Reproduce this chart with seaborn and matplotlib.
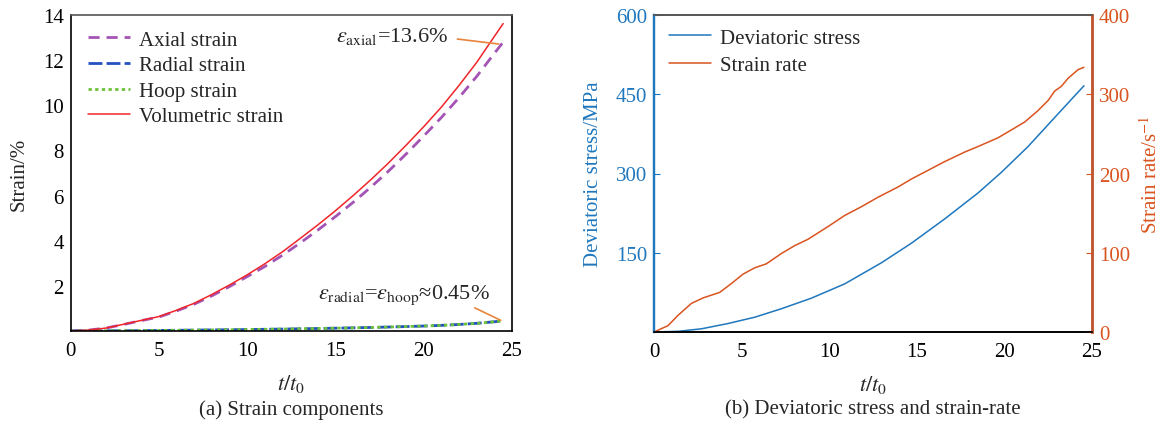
import numpy as np
import pandas as pd
import matplotlib
matplotlib.use("Agg")
import matplotlib.pyplot as plt
from matplotlib.lines import Line2D
import seaborn as sns

# ---------------- data ----------------
t_strain = [0, 1, 2, 3, 4, 5, 6, 7, 8, 9, 10, 11, 12, 13, 14, 15, 16, 17, 18, 19,
            20, 21, 22, 23, 24, 24.5]
axial = [0, 0.04, 0.13, 0.29, 0.46, 0.62, 0.89, 1.19, 1.56, 1.97, 2.41, 2.86, 3.36,
         3.90, 4.47, 5.07, 5.70, 6.37, 7.08, 7.84, 8.64, 9.46, 10.34, 11.28, 12.30, 12.80]
radial = [0, 0.003, 0.007, 0.012, 0.018, 0.025, 0.032, 0.040, 0.048, 0.056, 0.065,
          0.075, 0.086, 0.098, 0.111, 0.125, 0.140, 0.157, 0.176, 0.197, 0.220, 0.250,
          0.290, 0.340, 0.410, 0.450]
hoop = list(radial)
volumetric = [0, 0.04, 0.13, 0.30, 0.47, 0.64, 0.92, 1.23, 1.62, 2.04, 2.49, 2.98, 3.51,
              4.10, 4.70, 5.33, 6.00, 6.70, 7.44, 8.23, 9.05, 9.92, 10.88, 11.90, 13.05, 13.62]

t_rate = [0, 0.8, 1.37, 2.13, 2.8, 3.75, 4.41, 5.08, 5.75, 6.41, 7.27, 8.03, 8.79, 9.93,
          10.88, 11.83, 12.78, 13.93, 14.69, 15.64, 16.59, 17.73, 18.49, 19.63, 20.4,
          21.16, 21.9, 22.49, 22.87, 23.25, 23.63, 24.2, 24.54]
strain_rate = [0, 8, 21, 36, 43, 50, 61, 73, 81, 86, 99, 109, 117, 133, 147, 158, 170,
               183, 193, 204, 215, 227, 234, 245, 255, 265, 279, 292, 304, 310, 320, 331, 334]

t_stress = [0, 1.37, 2.7, 4.22, 5.75, 7.27, 8.98, 10.88, 12.98, 14.69, 16.59, 18.49,
            19.82, 21.35, 22.87, 24.54]
dev_stress = [0, 1.3, 6, 16, 28, 44, 64, 91, 131, 168, 214, 263, 302, 351, 406, 466]

x_ticks = [0, 5, 10, 15, 20, 25]
strain_ticks = [2, 4, 6, 8, 10, 12, 14]
stress_ticks = [150, 300, 450, 600]
rate_ticks = [0, 100, 200, 300, 400]

# ---------------- style ----------------
sns.set_style("white")
plt.rcParams["font.family"] = ["Liberation Serif", "DejaVu Serif"]
plt.rcParams["mathtext.fontset"] = "stix"
plt.rcParams["font.size"] = 15

FS = 15
C_AX = "#A454B4"
C_RAD = "#2450C0"
C_HOOP = "#6CC23A"
C_VOL = "#F0252A"
C_STRESS = "#1F77BD"
C_RATE = "#D9541F"
C_ANN = "#E8843C"

W, H = 1165, 431
fig = plt.figure(figsize=(W / 100, H / 100), dpi=100)

def box(l, t, r, b):
    return [l / W, (H - b) / H, (r - l) / W, (b - t) / H]

# ---------------- panel (a) ----------------
ax = fig.add_axes(box(70.7, 16, 512, 332))
df_a = pd.DataFrame({"t": t_strain, "axial": axial, "radial": radial,
                     "hoop": hoop, "vol": volumetric})
sns.lineplot(data=df_a, x="t", y="axial", ax=ax, color=C_AX, lw=2,
             linestyle=(0, (4, 2.5)), label="Axial strain")
sns.lineplot(data=df_a, x="t", y="radial", ax=ax, color=C_RAD, lw=2,
             linestyle=(0, (5, 1.5)), label="Radial strain")
sns.lineplot(data=df_a, x="t", y="hoop", ax=ax, color=C_HOOP, lw=2,
             linestyle=(0, (1.2, 1.2)), label="Hoop strain")
sns.lineplot(data=df_a, x="t", y="vol", ax=ax, color=C_VOL, lw=1.1,
             linestyle="-", label="Volumetric strain")
ax.set_xlim(0, 25)
ax.set_ylim(0, 14)
ax.set_xticks(x_ticks)
ax.set_yticks(strain_ticks)
ax.tick_params(direction="in", length=4, width=1, colors="black", labelsize=FS,
               top=False, right=False)
ax.tick_params(axis="x", pad=7)
ax.tick_params(axis="y", pad=5)
ax.set_xlabel(r"$t/t_0$", fontsize=16, labelpad=9)
ax.set_ylabel("Strain/%", fontsize=FS, labelpad=10)
for s in ax.spines.values():
    s.set_color("black")
    s.set_linewidth(1.2)
ax.spines["top"].set_color("#555555")
ax.legend(loc="upper left", bbox_to_anchor=(0.021, 0.979), frameon=False,
          handlelength=2.0, handletextpad=0.45, labelspacing=0.29,
          fontsize=FS, borderaxespad=0)
ax.annotate("", xy=(24.4, 12.7), xytext=(21.75, 12.95),
            arrowprops=dict(arrowstyle="-", color=C_ANN, lw=1.2))
ax.text(21.4, 13.1, r"$\varepsilon_{\mathrm{axial}}$=13.6%", ha="right",
        va="center", fontsize=16)
ax.annotate("", xy=(24.5, 0.42), xytext=(22.75, 1.08),
            arrowprops=dict(arrowstyle="-", color=C_ANN, lw=1.2))
ax.text(23.75, 1.64,
        r"$\varepsilon_{\mathrm{radial}}$=$\varepsilon_{\mathrm{hoop}}$≈0.45%",
        ha="right", va="center", fontsize=16)
fig.text((70.7 + 512) / 2 / W, 1 - 410 / H, "(a) Strain components",
         ha="center", va="center", fontsize=FS)

# ---------------- panel (b) ----------------
bx = fig.add_axes(box(654, 16, 1092, 333))
bx2 = bx.twinx()
df_s = pd.DataFrame({"t": t_stress, "stress": dev_stress})
df_r = pd.DataFrame({"t": t_rate, "rate": strain_rate})
sns.lineplot(data=df_s, x="t", y="stress", ax=bx, color=C_STRESS, lw=1.1, legend=False)
sns.lineplot(data=df_r, x="t", y="rate", ax=bx2, color=C_RATE, lw=1.1, legend=False)
bx.set_xlim(0, 25)
bx.set_ylim(0, 600)
bx2.set_ylim(0, 400)
bx.set_xticks(x_ticks)
bx.set_yticks(stress_ticks)
bx2.set_yticks(rate_ticks)
bx.tick_params(axis="x", direction="in", length=4, colors="black", labelsize=FS, pad=7)
bx.tick_params(axis="y", direction="in", length=4, colors=C_STRESS, labelsize=FS, pad=5)
bx2.tick_params(axis="y", direction="in", length=4, colors=C_RATE, labelsize=FS, pad=5)
bx.set_xlabel(r"$t/t_0$", fontsize=16, labelpad=9)
bx.set_ylabel("Deviatoric stress/MPa", fontsize=FS, color=C_STRESS, labelpad=9)
bx2.set_ylabel(r"Strain rate/s$^{-1}$", fontsize=FS, color=C_RATE, labelpad=7)
for a in (bx, bx2):
    for s in a.spines.values():
        s.set_linewidth(1.2)
    a.spines["top"].set_color("#555555")
    a.spines["bottom"].set_color("black")
    a.spines["left"].set_color(C_STRESS)
    a.spines["right"].set_color("#C0552E")
    a.spines["right"].set_linewidth(1.8)
    a.spines["left"].set_linewidth(1.6)
handles = [Line2D([], [], color=C_STRESS, lw=1.1), Line2D([], [], color=C_RATE, lw=1.1)]
bx.legend(handles, ["Deviatoric stress", "Strain rate"], loc="upper left",
          bbox_to_anchor=(0.016, 0.985), frameon=False, handlelength=2.0,
          handletextpad=0.45, labelspacing=0.39, fontsize=FS, borderaxespad=0)
fig.text((654 + 1092) / 2 / W, 1 - 410 / H, "(b) Deviatoric stress and strain-rate",
         ha="center", va="center", fontsize=FS)

fig.savefig("out.png", dpi=100)
